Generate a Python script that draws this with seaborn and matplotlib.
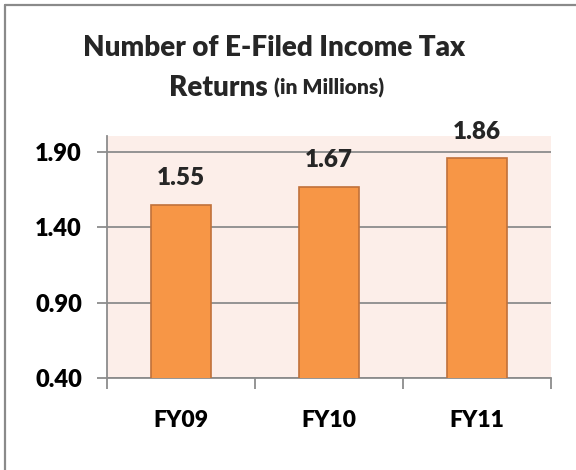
import matplotlib
matplotlib.use("Agg")
import matplotlib.pyplot as plt
import seaborn as sns
import pandas as pd
from matplotlib.lines import Line2D

years = ["FY09", "FY10", "FY11"]
returns = [1.55, 1.67, 1.86]
yticks = [0.40, 0.90, 1.40, 1.90]

sns.set_theme(style="white")
plt.rcParams['font.family'] = ['Lato', 'DejaVu Sans']
W = 'heavy'
plt.rcParams['font.weight'] = W

df = pd.DataFrame({"year": years, "value": returns})

fig = plt.figure(figsize=(5.76, 4.70), dpi=100)
ax = fig.add_axes([107/576, 1-378/470, (551-107)/576, (378-136)/470])
ax.set_facecolor("#FCEEE9")

sns.barplot(data=df, x="year", y="value", color="#F79646", width=0.4,
            edgecolor="#C0713A", linewidth=1.2, saturation=1, ax=ax, zorder=3)

ax.set_ylim(0.40, 2.006)
ax.set_xlim(-0.5, 2.5)
ax.set_yticks(yticks)
ax.set_yticklabels([f"{v:.2f}" for v in yticks], fontsize=17, fontweight=W)
ax.yaxis.grid(True, color="#8C8C8C", linewidth=1.3, zorder=1)
ax.set_axisbelow(True)
ax.tick_params(axis='y', which='major', length=7, width=1.3, color="#8C8C8C",
               pad=11, left=True, labelcolor="black")

ax.set_xticks([-0.5, 0.5, 1.5, 2.5])
ax.set_xticklabels([])
ax.set_xticks([0, 1, 2], minor=True)
ax.set_xticklabels(years, minor=True, fontsize=16.5, fontweight=W)
ax.tick_params(axis='x', which='major', length=8, width=1.3, color="#8C8C8C", bottom=True)
ax.tick_params(axis='x', which='minor', length=0, pad=23, labelcolor="black")

ax.set_xlabel("")
ax.set_ylabel("")
for s in ["top", "right"]:
    ax.spines[s].set_visible(False)
for s in ["left", "bottom"]:
    ax.spines[s].set_visible(True)
    ax.spines[s].set_color("#8C8C8C")
    ax.spines[s].set_linewidth(1.3)

for i, v in enumerate(returns):
    ax.annotate(f"{v:.2f}", (i, v), xytext=(0, 11), textcoords="offset points",
                ha="center", va="bottom", fontsize=17.5, fontweight=W,
                annotation_clip=False, clip_on=False)

fig.text(274/576, 1-48/470, "Number of E-Filed Income Tax", ha="center", va="center",
         fontsize=20, fontweight=W)
fig.text(268/576, 1-88/470, "Returns", ha="right", va="center", fontsize=20, fontweight=W)
fig.text(274/576, 1-88/470, "(in Millions)", ha="left", va="center", fontsize=15, fontweight=W)

fig.add_artist(Line2D([5/576, 1], [1-5/470, 1-5/470], transform=fig.transFigure,
                      color="#8A8A8A", linewidth=1.6))
fig.add_artist(Line2D([5/576, 5/576], [0, 1-5/470], transform=fig.transFigure,
                      color="#8A8A8A", linewidth=1.6))

fig.savefig("out.png", dpi=100)
